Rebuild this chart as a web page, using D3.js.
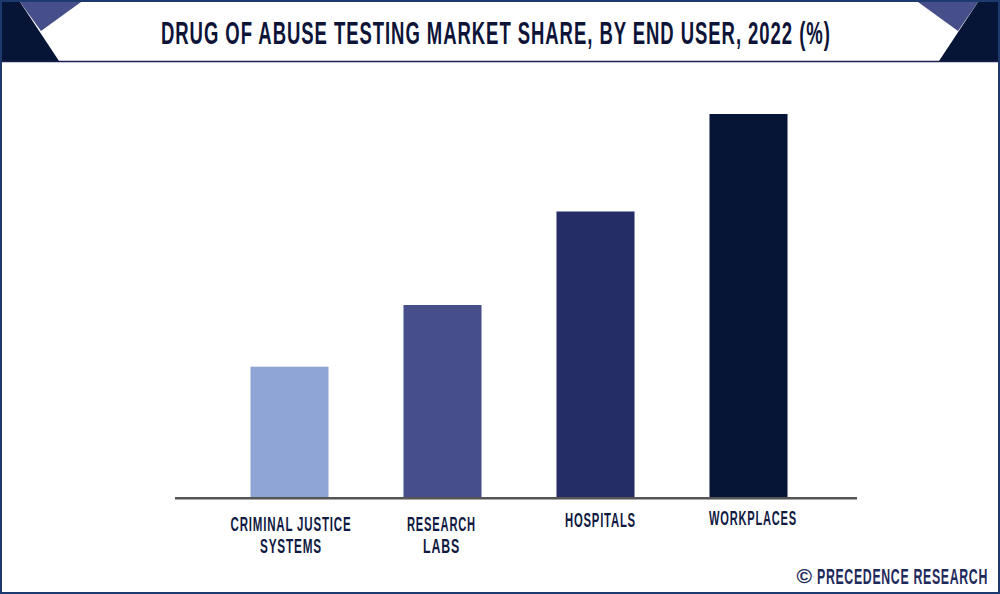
<!DOCTYPE html>
<html><head><meta charset="utf-8">
<script src="https://cdn.jsdelivr.net/npm/d3@7"></script>
<style>html,body{margin:0;padding:0;background:#fff;overflow:hidden}svg{display:block}
text{font-family:"Liberation Sans Narrow","Liberation Sans",sans-serif;font-weight:700;fill:#111a42}</style>
</head><body><svg id="c" width="1000" height="594"></svg>
<script>
const categories = ["Criminal Justice Systems","Research Labs","Hospitals","Workplaces"];
const shares = [13.2,19.4,28.8,38.6];
const barColors = ["#8fa5d5","#474f8a","#252d67","#061436"];
const labelLines = [["CRIMINAL JUSTICE","SYSTEMS"],["RESEARCH","LABS"],["HOSPITALS"],["WORKPLACES"]];
const titleText = "DRUG OF ABUSE TESTING MARKET SHARE, BY END USER, 2022 (%)";
const creditMark = "©";
const creditText = "PRECEDENCE RESEARCH";

const svg = d3.select("#c");
const x = d3.scaleBand().domain(categories).range([213,825]).paddingInner(0.49).paddingOuter(0.245);
const y = d3.scaleLinear().domain([0,38.6]).range([498,114]);

const tri = (pts,fill)=>svg.append("polygon").attr("points",pts.join(" ")).attr("fill",fill);
tri(["2,2","20,2","59,61","2,61"],"#061436");
tri(["20,2","81,2","41,31"],"#474f8a");
tri(["978,2","998,2","998,61","939,61"],"#061436");
tri(["918,2","978,2","958,31"],"#474f8a");
svg.append("line").attr("x1",1).attr("x2",999).attr("y1",61.5).attr("y2",61.5).attr("stroke","#1b2052").attr("stroke-width",1.5);
svg.append("rect").attr("x",1).attr("y",1).attr("width",998).attr("height",592).attr("fill","none").attr("stroke","#1c3a6e").attr("stroke-width",2);

// squeeze a text horizontally so it spans the wanted width, like a condensed display face
function fit(sel, left, baseline, width){
  const natural = sel.node().getComputedTextLength();
  sel.attr("transform",`translate(${left},${baseline}) scale(${width/natural},1)`);
  return sel;
}

fit(svg.append("text").attr("font-size",31).attr("letter-spacing",1.6).style("fill","#0d1438").text(titleText),161,43.5,670);

svg.selectAll("rect.bar").data(categories).join("rect").attr("class","bar")
  .attr("x",d=>x(d)).attr("width",x.bandwidth())
  .attr("y",(d,i)=>y(shares[i])).attr("height",(d,i)=>y(0)-y(shares[i]))
  .attr("fill",(d,i)=>barColors[i]);

svg.append("line").attr("x1",175).attr("x2",857).attr("y1",498.2).attr("y2",498.2).attr("stroke","#555").attr("stroke-width",2.4);

const labelDx = [1.5,-1,5,4.5], labelY = [530.7,530.7,526.5,525];
const widths = [[121,62],[69,37],[71],[88]];
labelLines.forEach((lines,i)=>{
  lines.forEach((t,j)=>{
    const left = x(categories[i])+x.bandwidth()/2+labelDx[i]-widths[i][j]/2;
    fit(svg.append("text").attr("font-size",20).attr("letter-spacing",1.4).text(t),left,labelY[i]+j*22.5,widths[i][j]);
  });
});

fit(svg.append("text").attr("font-size",21).attr("font-weight",700).style("font-family","'Liberation Sans',sans-serif").style("fill","#1f2a5c").text(creditMark),796.5,583,15.5);
fit(svg.append("text").attr("font-size",22).attr("letter-spacing",1.2).style("fill","#1f2a5c").text(creditText),817,583.5,171);
</script></body></html>
